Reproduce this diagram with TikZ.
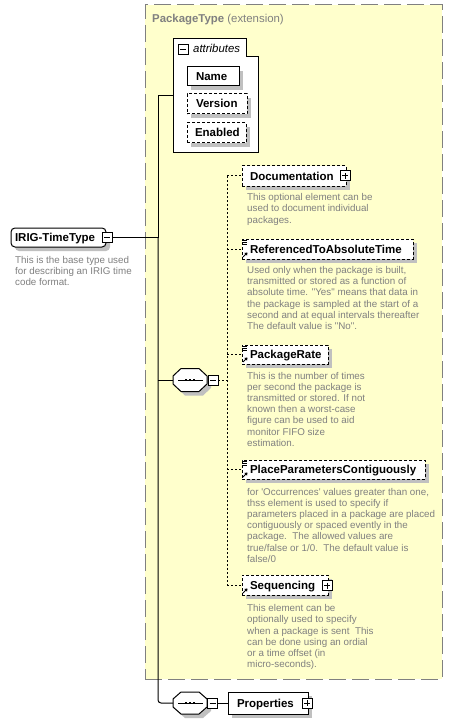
\documentclass[tikz,border=0pt]{standalone}
\usepackage{fontspec}
\newfontfamily\lsans{Liberation Sans}
\usetikzlibrary{shadows,arrows.meta,calc}
\definecolor{pkgyellow}{RGB}{255,255,204}
\definecolor{frameGray}{RGB}{128,128,128}
\definecolor{descgray}{RGB}{128,128,128}
\definecolor{shadowgray}{RGB}{192,192,192}
\newcommand\elab[3]{\makebox[#1pt][l]{\hspace*{#2pt}#3}}
\newcommand\simpleicon[1]{\foreach \dy in {1.5,3.5,5.5}{\draw[line width=0.9pt] ($(#1.north west)+(0,\dy)$) -- ++(5,0);}}
\newcommand\refarrow[1]{\draw[line width=1pt,-{Triangle[length=2.5pt,width=3.5pt]}] ($(#1.south west)+(1,-2)$) -- ++(4.5,-4.5);}
\newcommand\seqshape[2]{%
  \begin{scope}[shift={(#1.center)}]
    \fill[shadowgray] (-13,0) -- (-5,-#2+4) -- (13,-#2+4) -- (21,0) -- (21,8) -- (13,#2+4) -- (-5,#2+4) -- (-13,8) -- cycle;
    \draw[line width=1pt, fill=white] (-17,-4) -- (-9,-#2) -- (9,-#2) -- (17,-4) -- (17,4) -- (9,#2) -- (-9,#2) -- (-17,4) -- cycle;
    \draw[line width=1pt] (-12,0) -- (13,0);
    \fill (-5.3,-1.3) rectangle ++(2.6,2.6);
    \fill (-1.3,-1.3) rectangle ++(2.6,2.6);
    \fill (2.7,-1.3) rectangle ++(2.6,2.6);
  \end{scope}}
\tikzset{
  elem/.style={draw=black, fill=white, line width=1pt, anchor=north west, inner sep=0pt, outer sep=0pt,
    text height=10pt, text depth=2pt, font=\lsans\bfseries\fontsize{11.5}{13}\selectfont,
    drop shadow={shadow xshift=4pt, shadow yshift=-4pt, fill=shadowgray, opacity=1}},
  optelem/.style={elem, dash pattern=on 3pt off 2pt},
  desc/.style={anchor=base west, inner sep=0pt, align=left, text=descgray, font=\lsans\fontsize{9.8}{11.2}\selectfont},
  pmbox/.style={draw=black, fill=white, line width=1pt, minimum size=10pt, inner sep=0pt, outer sep=0pt},
  pmminus/.style={pmbox, path picture={\draw[line width=1pt] ($(path picture bounding box.west)+(2,0)$) -- ($(path picture bounding box.east)+(-2,0)$);}},
  pmplus/.style={pmbox, path picture={\draw[line width=1pt] ($(path picture bounding box.west)+(2,0)$) -- ($(path picture bounding box.east)+(-2,0)$);
      \draw[line width=1pt] ($(path picture bounding box.north)+(0,2)$) -- ($(path picture bounding box.south)+(0,-2)$);}},
  hub/.style={minimum width=34pt, inner sep=0pt, outer sep=0pt},
  conn/.style={draw=black, line width=1pt},
  dotconn/.style={draw=black, line width=1pt, dash pattern=on 2pt off 2pt},
}
\begin{document}
\begin{tikzpicture}[x=1pt,y=-1pt]
\useasboundingbox (0,0) rectangle (453,722);
\fill[white] (0,0) rectangle (453,722);

% extension container
\node[draw=frameGray, fill=pkgyellow, line width=1pt, dash pattern=on 17pt off 6pt, minimum width=297pt, minimum height=674pt, anchor=north west, outer sep=0pt, inner sep=0pt] (pkg) at (145,5) {};
\node[anchor=base west, inner sep=0pt, text=descgray, font=\lsans\fontsize{11.4}{13}\selectfont] (pkgtitle) at (152,23) {\textbf{PackageType} (extension)};

% attributes panel
\node[minimum width=85pt, minimum height=114pt, anchor=north west, inner sep=0pt, outer sep=0pt] (attrs) at (173,39) {};
\draw[line width=1pt, fill=white] (173,39) -- (246,39) -- (246,57) -- (258,57) -- (258,153) -- (173,153) -- cycle;
\node[pmminus] (attrm) at (183,49.5) {};
\node[anchor=base west, inner sep=0pt, font=\lsans\itshape\fontsize{11.4}{13}\selectfont] (attrlbl) at (193,52.5) {attributes};
\node[elem, minimum height=19pt] (name) at (187,67) {\elab{52}{9}{Name}};
\node[optelem, minimum height=20pt] (version) at (187,94) {\elab{60}{9}{Version}};
\node[optelem, minimum height=20pt] (enabled) at (187,123) {\elab{59}{8}{Enabled}};

% root type
\node[elem, rounded corners=4pt, minimum height=19pt] (irig) at (11,228) {\elab{95}{4}{IRIG-TimeType}};
\node[pmminus] (irigm) at (107,237.5) {};
\node[desc] (irigdesc) at (15,285.7) {This is the base type used\\for describing an IRIG time\\code format.};

% children of the sequence
\node[optelem, minimum height=20pt] (doc) at (242,166) {\elab{104}{8}{Documentation}};
\node[pmplus] (docp) at (345,176) {};
\node[desc] (docdesc) at (247,223.1) {This optional element can be\\used to document individual\\packages.};

\node[optelem, minimum height=20pt] (ref) at (242,239) {\elab{171}{8}{ReferencedToAbsoluteTime}};
\simpleicon{ref}
\refarrow{ref}
\node[desc] (refdesc) at (247,329.5) {Used only when the package is built,\\transmitted or stored as a function of\\absolute time. "Yes" means that data in\\the package is sampled at the start of a\\second and at equal intervals thereafter\\The default value is "No".};

\node[optelem, minimum height=19pt] (rate) at (242,345) {\elab{86}{8}{PackageRate}};
\simpleicon{rate}
\refarrow{rate}
\node[desc] (ratedesc) at (247,446.2) {This is the number of times\\per second the package is\\transmitted or stored. If not\\known then a worst-case\\figure can be used to aid\\monitor FIFO size\\estimation.};

\node[optelem, minimum height=19pt] (place) at (242,460) {\elab{183}{8}{PlaceParametersContiguously}};
\simpleicon{place}
\refarrow{place}
\node[desc] (placedesc) at (247,562.2) {for 'Occurrences' values greater than one,\\thss element is used to specify if\\parameters placed in a package are placed\\contiguously or spaced evently in the\\package.\ \ The allowed values are\\true/false or 1/0.\ \ The default value is\\false/0};

\node[optelem, minimum height=20pt] (seqn) at (242,575) {\elab{86}{8}{Sequencing}};
\refarrow{seqn}
\node[pmplus] (seqnp) at (327,585.5) {};
\node[desc] (seqndesc) at (247,667.6) {This element can be\\optionally used to specify\\when a package is sent\ \ This\\can be done using an ordial\\or a time offset (in\\micro-seconds).};

% sequence compositors
\node[hub, minimum height=23pt] (seq1) at (190,380) {};
\seqshape{seq1}{11.5}
\node[pmminus] (seq1m) at (213,380) {};

\node[hub, minimum height=22pt] (seq2) at (190,703) {};
\seqshape{seq2}{11}
\node[pmminus] (seq2m) at (212.5,703) {};
\node[elem, minimum height=22pt] (props) at (228,692) {\elab{80}{9}{Properties}};
\node[pmplus] (propsp) at (307,703) {};

% solid connectors
\coordinate (jn) at (158,237.5);
\draw[conn] (irigm.east) -- (jn);
\draw[conn] (attrs.west) -| (jn);
\draw[conn, rounded corners=3pt] (jn) |- (seq2.west);
\draw[conn] (seq1.west) -- (seq1.west -| jn);
\draw[conn] (seq2m.east) -- (props.west);

% dotted connectors
\coordinate (dv) at (227,0);
\draw[dotconn] (doc.west -| dv) -- (seqn.west -| dv);
\draw[dotconn] (seq1m.east) -- (seq1m.east -| dv);
\draw[dotconn] (doc.west -| dv) -- (doc.west);
\draw[dotconn] (ref.west -| dv) -- (ref.west);
\draw[dotconn] (rate.west -| dv) -- (rate.west);
\draw[dotconn] (place.west -| dv) -- (place.west);
\draw[dotconn] (seqn.west -| dv) -- (seqn.west);
\end{tikzpicture}
\end{document}
